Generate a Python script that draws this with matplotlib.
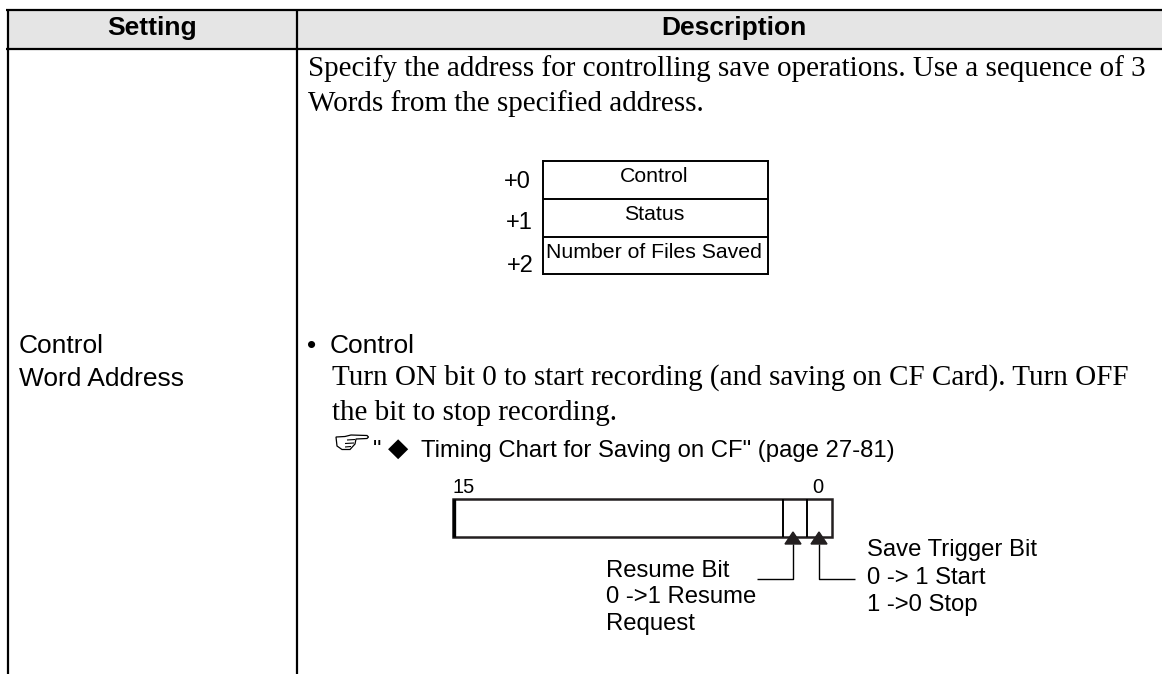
import matplotlib
matplotlib.use("Agg")
import matplotlib.pyplot as plt
from matplotlib.patches import Polygon, Rectangle

SERIF = "Liberation Serif"
SANS = ["Liberation Sans", "DejaVu Sans"]

# table text
headers = ["Setting", "Description"]
setting_lines = ["Control", "Word Address"]
intro_lines = ["Specify the address for controlling save operations. Use a sequence of 3",
               "Words from the specified address."]
control_lines = ["Turn ON bit 0 to start recording (and saving on CF Card). Turn OFF",
                 "the bit to stop recording."]
word_rows = ["Control", "Status", "Number of Files Saved"]
word_offsets = ["+0", "+1", "+2"]
resume_lines = ["Resume Bit", "0 ->1 Resume", "Request"]
trigger_lines = ["Save Trigger Bit", "0 -> 1 Start", "1 ->0 Stop"]

fig = plt.figure(figsize=(11.62, 6.74), dpi=100)
ax = fig.add_axes([0, 0, 1, 1])
ax.set_xlim(0, 1162)
ax.set_ylim(674, 0)
ax.axis("off")


def line(xs, ys, lw=1.5):
    ax.plot(xs, ys, color="black", lw=lw, solid_capstyle="butt", clip_on=True)


# Table frame
ax.add_patch(Rectangle((7, 10), 1155, 38, facecolor="#e5e5e5", edgecolor="none"))
line([6, 1162], [10, 10], 1.6)
line([6, 1162], [48.5, 48.5], 1.6)
line([7.5, 7.5], [10, 674], 1.6)
line([297, 297], [10, 674], 1.6)

ax.text(152, 28, headers[0], family=SANS, fontsize=19, weight="bold", ha="center", va="center")
ax.text(734, 28, headers[1], family=SANS, fontsize=19, weight="bold", ha="center", va="center")

ax.text(19, 353, setting_lines[0], family=SANS, fontsize=19, va="baseline")
ax.text(19, 386, setting_lines[1], family=SANS, fontsize=19, va="baseline")

ax.text(308, 76, intro_lines[0], family=SERIF, fontsize=21, va="baseline")
ax.text(308, 111, intro_lines[1], family=SERIF, fontsize=21, va="baseline")

# Word layout box
for y in [161, 199, 237, 274]:
    line([543, 768], [y, y], 1.4)
line([543, 543], [160.3, 274.7], 1.4)
line([768, 768], [160.3, 274.7], 1.4)
for label, y in zip(word_rows, [177, 214, 252]):
    ax.text(654, y, label, family=SANS, fontsize=15.3, ha="center", va="center")
for label, x, y in zip(word_offsets, [531, 533, 534], [182, 223, 266]):
    ax.text(x, y, label, family=SANS, fontsize=17, ha="right", va="center")

# Control section
ax.text(307, 353, "\u2022", family=SANS, fontsize=19, va="baseline")
ax.text(330, 353, "Control", family=SANS, fontsize=19, va="baseline")
ax.text(332, 385, control_lines[0], family=SERIF, fontsize=21, va="baseline")
ax.text(332, 420, control_lines[1], family=SERIF, fontsize=21, va="baseline")

# pointing hand icon, no installed font has a usable glyph
hand = [(336, 437), (345, 436.5), (351, 435), (367, 435.5), (368.5, 437), (367, 438.5),
        (356, 439), (355, 444), (350, 449.5), (342, 449.5), (337, 446)]
ax.add_patch(Polygon(hand, facecolor="white", edgecolor="black", lw=0.9))
line([347, 355], [440, 439.5], 0.8)
line([345, 354], [443.5, 443], 0.8)
line([345, 351], [447, 446.5], 0.8)

ax.text(373, 457, "\"", family=SANS, fontsize=17, va="baseline")
ax.text(387.5, 455.5, "\u25c6", family="DejaVu Sans", fontsize=19, va="baseline")
ax.text(421, 457, "Timing Chart for Saving on CF\" (page 27-81)", family=SANS, fontsize=17.2, va="baseline")

# Bit layout box
ax.add_patch(Rectangle((453, 499), 379, 38, facecolor="none", edgecolor="#231f20", lw=1.8))
line([454, 454], [499, 537], 2.4)
line([783, 783], [499, 537], 1.4)
line([807, 807], [499, 537], 1.4)
ax.text(452, 493, "15", family=SANS, fontsize=14.5, va="baseline")
ax.text(818, 493, "0", family=SANS, fontsize=14.5, ha="center", va="baseline")

for x_tip in [793, 819]:
    ax.add_patch(Polygon([(x_tip, 532), (x_tip - 8, 544), (x_tip + 8, 544)], color="#231f20"))
line([793, 793, 757], [544, 579, 579], 1)
line([819, 819, 855], [544, 579, 579], 1)

for label, y in zip(resume_lines, [577, 603, 630]):
    ax.text(606, y, label, family=SANS, fontsize=17.2, va="baseline")
for label, y in zip(trigger_lines, [556, 584, 611]):
    ax.text(867, y, label, family=SANS, fontsize=17.2, va="baseline")

fig.savefig("out.png", dpi=100)
